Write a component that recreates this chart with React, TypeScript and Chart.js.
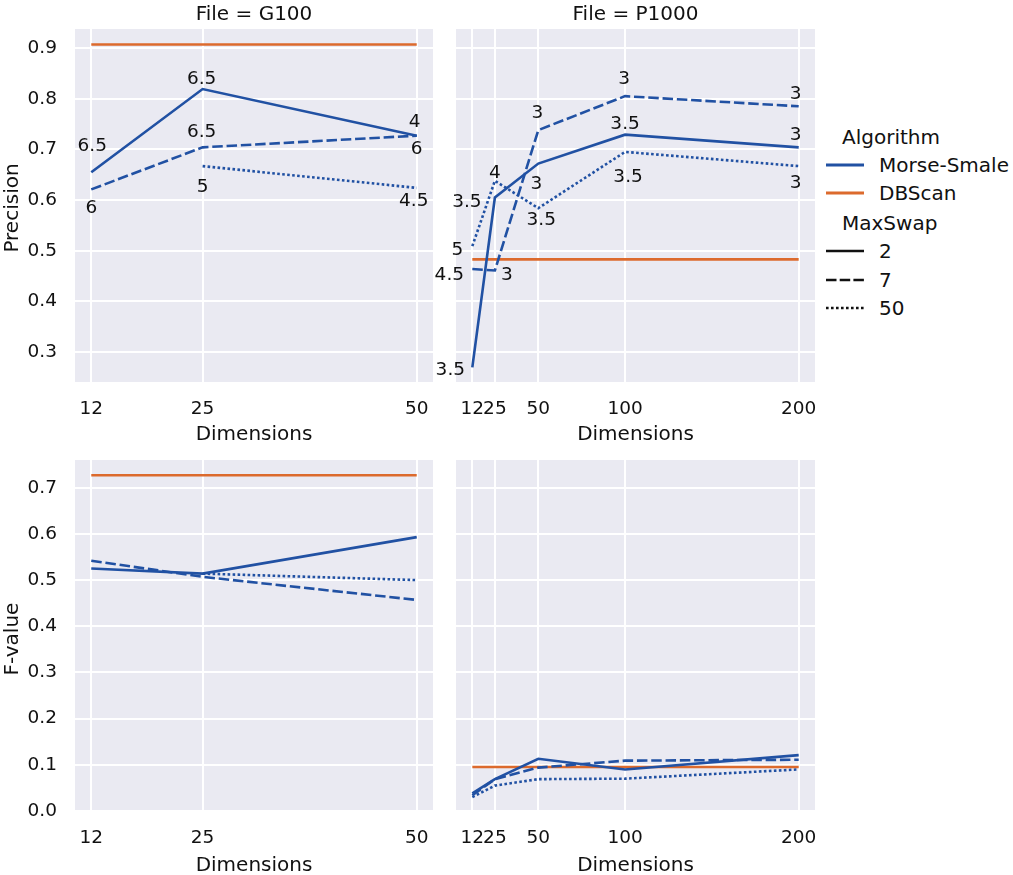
import React, { useEffect, useRef } from 'react';
import Chart from 'chart.js/auto';

// x values per file
const dimsG100 = [12, 25, 50];
const dimsP1000 = [12, 25, 50, 100, 200];

// Precision, File = G100
const precG100Swap2 = [0.655, 0.819, 0.727];
const precG100Swap7 = [0.621, 0.704, 0.727];
const precG100Swap50 = [null, 0.667, 0.624];
const precG100DBScan = [0.907, 0.907, 0.907];

// Precision, File = P1000
const precP1000Swap2 = [0.27, 0.605, 0.672, 0.729, 0.704];
const precP1000Swap7 = [0.464, 0.461, 0.738, 0.805, 0.785];
const precP1000Swap50 = [0.509, 0.638, 0.584, 0.695, 0.667];
const precP1000DBScan = [0.483, 0.483, 0.483, 0.483, 0.483];

// F-value, File = G100
const fvalG100Swap2 = [0.525, 0.514, 0.593];
const fvalG100Swap7 = [0.542, 0.507, 0.457];
const fvalG100Swap50 = [null, 0.514, 0.5];
const fvalG100DBScan = [0.727, 0.727, 0.727];

// F-value, File = P1000
const fvalP1000Swap2 = [0.038, 0.069, 0.113, 0.09, 0.121];
const fvalP1000Swap7 = [0.034, 0.069, 0.094, 0.109, 0.111];
const fvalP1000Swap50 = [0.03, 0.055, 0.069, 0.07, 0.09];
const fvalP1000DBScan = [0.0954, 0.0954, 0.0954, 0.0954, 0.0954];

// text put next to each point of the precision panels
const textG100Swap2 = ['6.5', '6.5', '4'];
const textG100Swap7 = ['6', '6.5', '6'];
const textG100Swap50 = ['', '5', '4.5'];
const textP1000Swap2 = ['3.5', '3.5', '3', '3.5', '3'];
const textP1000Swap7 = ['4.5', '3', '3', '3', '3'];
const textP1000Swap50 = ['5', '4', '3.5', '3.5', '3'];

// pixel nudges for that text
const nudgeG100Swap2 = [[1, -27], [-1, -11], [-2, -15]];
const nudgeG100Swap7 = [[0, 17], [-1, -17], [0, 12]];
const nudgeG100Swap50 = [[0, 0], [0, 20], [-3, 12]];
const nudgeP1000Swap2 = [[-22, 1], [-28, 3], [-2, 19], [0, -12], [-3, -14]];
const nudgeP1000Swap7 = [[-23, 5], [12, 3], [-1, -18], [-1, -18], [-3, -14]];
const nudgeP1000Swap50 = [[-15, 3], [0, -9], [3, 11], [3, 24], [-3, 16]];

const precTicks = [0.3, 0.4, 0.5, 0.6, 0.7, 0.8, 0.9];
const fvalTicks = [0, 0.1, 0.2, 0.3, 0.4, 0.5, 0.6, 0.7];

const BLUE = '#2151a3';
const ORANGE = '#dc6a2d';
const INK = '#111';
const FONT = '"DejaVu Sans"';
const TICK_SIZE = 18.5;
const dash = [10.5, 3.8];
const dots = [2.6, 2.4];

Chart.defaults.font.family = FONT;
Chart.defaults.font.size = 20;
Chart.defaults.color = INK;

const pointLabels = {
  id: 'pointLabels',
  afterDatasetsDraw(chart: any, _args: any, opts: any) {
    const { ctx, scales } = chart;
    ctx.save();
    ctx.font = `${TICK_SIZE}px ${FONT}`;
    ctx.fillStyle = INK;
    ctx.textAlign = 'center';
    ctx.textBaseline = 'middle';
    (opts.groups || []).forEach((g: any) => {
      g.text.forEach((t: string, i: number) => {
        if (!t) return;
        const px = scales.x.getPixelForValue(g.xs[i]) + g.nudge[i][0];
        const py = scales.y.getPixelForValue(g.ys[i]) + g.nudge[i][1] + 1.5;
        ctx.fillText(t, px, py);
      });
    });
    // y axis title, sits a little below the middle of the plot
    if (opts.yTitle) {
      ctx.font = `20px ${FONT}`;
      ctx.translate(13, opts.yTitleY);
      ctx.rotate(-Math.PI / 2);
      ctx.fillText(opts.yTitle, 0, 0);
    }
    ctx.restore();
  },
};

const line = (xs: number[], ys: (number | null)[], color: string, borderDash: number[]) => ({
  data: xs.map((x, i) => ({ x, y: ys[i] })),
  borderColor: color,
  borderWidth: 2.6,
  borderDash,
  borderCapStyle: 'butt' as const,
  pointRadius: 0,
  tension: 0,
  spanGaps: false,
});

interface PanelProps {
  box: { left: number; top: number; width: number; height: number };
  axisW: number;
  axisH: number;
  padTop: number;
  padRight: number;
  xs: number[];
  xMin: number;
  xMax: number;
  yMin: number;
  yMax: number;
  yTicks: number[];
  yTitle?: string;
  yTitleY?: number;
  title?: string;
  series: (number | null)[][];
  groups?: any[];
}

const Panel: React.FC<PanelProps> = (p) => {
  const canvasRef = useRef<HTMLCanvasElement>(null);

  useEffect(() => {
    if (!canvasRef.current) return;
    const chart = new Chart(canvasRef.current, {
      type: 'line',
      data: {
        datasets: [
          line(p.xs, p.series[0], BLUE, []),
          line(p.xs, p.series[1], BLUE, dash),
          line(p.xs, p.series[2], BLUE, dots),
          line(p.xs, p.series[3], ORANGE, []),
        ],
      },
      plugins: [
        pointLabels,
        {
          id: 'panelBg',
          beforeDraw(c: any) {
            const a = c.chartArea;
            c.ctx.save();
            c.ctx.fillStyle = '#eaeaf2';
            c.ctx.fillRect(a.left, a.top, a.right - a.left, a.bottom - a.top);
            c.ctx.restore();
          },
        },
      ],
      options: {
        animation: false,
        responsive: false,
        layout: { padding: { top: p.padTop, right: p.padRight, left: 0, bottom: 0 } },
        plugins: {
          legend: { display: false },
          tooltip: { enabled: false },
          title: {
            display: !!p.title,
            text: p.title,
            color: INK,
            fullSize: false,
            font: { size: 20, weight: 'normal' },
            padding: { top: 2.5, bottom: 2.5 },
          },
          pointLabels: { groups: p.groups, yTitle: p.yTitle, yTitleY: p.yTitleY },
        } as any,
        scales: {
          x: {
            type: 'linear',
            min: p.xMin,
            max: p.xMax,
            grid: { color: '#fff', lineWidth: 2, drawTicks: false },
            border: { display: false },
            ticks: { autoSkip: false, maxRotation: 0, padding: 16, color: INK, font: { size: TICK_SIZE } },
            title: { display: true, text: 'Dimensions', color: INK, padding: { top: 0, bottom: 0 } },
            afterBuildTicks: (s: any) => {
              s.ticks = p.xs.map((value) => ({ value }));
            },
            afterFit: (s: any) => {
              s.height = p.axisH;
              // tick labels may hang over the plot edge, do not shrink the plot for them
              s.paddingLeft = 0;
              s.paddingRight = 0;
            },
          },
          y: {
            min: p.yMin,
            max: p.yMax,
            grid: { color: '#fff', lineWidth: 2, drawTicks: false },
            border: { display: false },
            ticks: {
              display: !!p.yTitle,
              padding: 18,
              color: INK,
              font: { size: TICK_SIZE },
              callback: (v: any) => Number(v).toFixed(1),
            },
            afterBuildTicks: (s: any) => {
              s.ticks = p.yTicks.map((value) => ({ value }));
            },
            afterFit: (s: any) => {
              s.width = p.axisW;
              s.paddingTop = 0;
              s.paddingBottom = 0;
            },
          },
        },
      },
    });
    return () => chart.destroy();
  }, []);

  return (
    <canvas
      ref={canvasRef}
      width={p.box.width}
      height={p.box.height}
      style={{ position: 'absolute', left: p.box.left, top: p.box.top, width: p.box.width, height: p.box.height }}
    />
  );
};

const group = (xs: number[], ys: (number | null)[], text: string[], nudge: number[][]) => ({ xs, ys, text, nudge });

const legendItems = [
  { label: 'Morse-Smale', color: BLUE, w: 2.8, dasharray: '', y: 165 },
  { label: 'DBScan', color: ORANGE, w: 2.8, dasharray: '', y: 193 },
  { label: '2', color: '#111', w: 2.6, dasharray: '', y: 251 },
  { label: '7', color: '#111', w: 2.6, dasharray: '10.5 3.2', y: 280 },
  { label: '50', color: '#111', w: 2.6, dasharray: '2.6 2.4', y: 308 },
];
const legendHeads = [
  { label: 'Algorithm', y: 137 },
  { label: 'MaxSwap', y: 223 },
];

const textStyle: React.CSSProperties = {
  position: 'absolute',
  font: `20px ${FONT}`,
  color: INK,
  lineHeight: '22px',
  whiteSpace: 'nowrap',
};

export default function App() {
  return (
    <div style={{ position: 'absolute', left: 0, top: 0, width: 1013, height: 875, background: '#fff', overflow: 'hidden' }}>
      <Panel
        box={{ left: 0, top: 0, width: 440, height: 447 }}
        axisW={75}
        axisH={65}
        padTop={0}
        padRight={7}
        xs={dimsG100}
        xMin={10.1}
        xMax={51.9}
        yMin={0.241}
        yMax={0.9375}
        yTicks={precTicks}
        yTitle="Precision"
        yTitleY={208}
        title="File = G100"
        series={[precG100Swap2, precG100Swap7, precG100Swap50, precG100DBScan]}
        groups={[
          group(dimsG100, precG100Swap2, textG100Swap2, nudgeG100Swap2),
          group(dimsG100, precG100Swap7, textG100Swap7, nudgeG100Swap7),
          group(dimsG100, precG100Swap50, textG100Swap50, nudgeG100Swap50),
        ]}
      />
      <Panel
        box={{ left: 430, top: 0, width: 393, height: 447 }}
        axisW={26}
        axisH={65}
        padTop={0}
        padRight={8}
        xs={dimsP1000}
        xMin={2.6}
        xMax={209.4}
        yMin={0.241}
        yMax={0.9375}
        yTicks={precTicks}
        title="File = P1000"
        series={[precP1000Swap2, precP1000Swap7, precP1000Swap50, precP1000DBScan]}
        groups={[
          group(dimsP1000, precP1000Swap2, textP1000Swap2, nudgeP1000Swap2),
          group(dimsP1000, precP1000Swap7, textP1000Swap7, nudgeP1000Swap7),
          group(dimsP1000, precP1000Swap50, textP1000Swap50, nudgeP1000Swap50),
        ]}
      />
      <Panel
        box={{ left: 0, top: 445, width: 440, height: 433 }}
        axisW={75}
        axisH={67}
        padTop={15}
        padRight={7}
        xs={dimsG100}
        xMin={10.1}
        xMax={51.9}
        yMin={0}
        yMax={0.76}
        yTicks={fvalTicks}
        yTitle="F-value"
        yTitleY={194}
        series={[fvalG100Swap2, fvalG100Swap7, fvalG100Swap50, fvalG100DBScan]}
      />
      <Panel
        box={{ left: 430, top: 445, width: 393, height: 433 }}
        axisW={26}
        axisH={67}
        padTop={15}
        padRight={8}
        xs={dimsP1000}
        xMin={2.6}
        xMax={209.4}
        yMin={0}
        yMax={0.76}
        yTicks={fvalTicks}
        series={[fvalP1000Swap2, fvalP1000Swap7, fvalP1000Swap50, fvalP1000DBScan]}
      />
      {legendHeads.map((h) => (
        <div key={h.label} style={{ ...textStyle, left: 842, top: h.y - 11 }}>
          {h.label}
        </div>
      ))}
      {legendItems.map((it) => (
        <React.Fragment key={it.label}>
          <svg style={{ position: 'absolute', left: 826, top: it.y - 4, width: 38, height: 8 }}>
            <line x1={0} y1={4} x2={38} y2={4} stroke={it.color} strokeWidth={it.w} strokeDasharray={it.dasharray} />
          </svg>
          <div style={{ ...textStyle, left: 879, top: it.y - 11 }}>{it.label}</div>
        </React.Fragment>
      ))}
    </div>
  );
}
